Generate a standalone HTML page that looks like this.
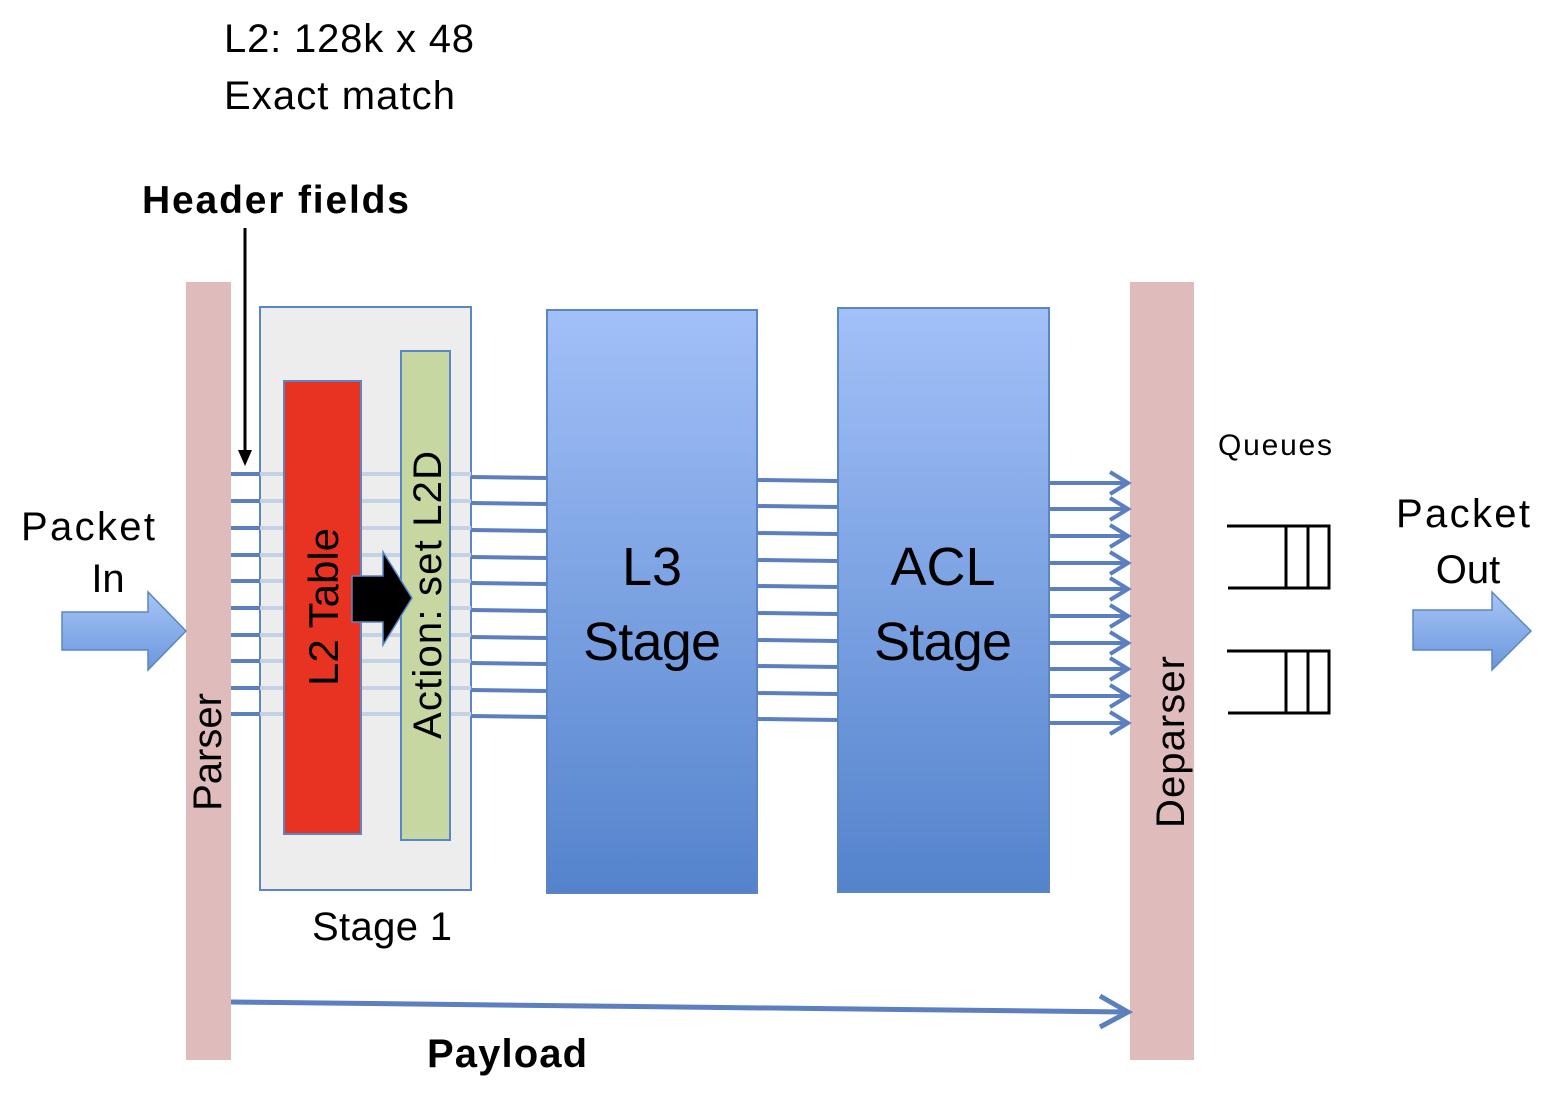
<!DOCTYPE html>
<html><head><style>
body{margin:0;background:#fff}
svg text{font-family:"Liberation Sans",sans-serif}
</style></head><body>
<svg width="1554" height="1088" viewBox="0 0 1554 1088" xmlns="http://www.w3.org/2000/svg">
<defs>
<linearGradient id="bl" x1="0" y1="0" x2="0" y2="1"><stop offset="0" stop-color="#a2c0f8"/><stop offset="1" stop-color="#5483cc"/></linearGradient>
<linearGradient id="ar" x1="0" y1="0" x2="0" y2="1"><stop offset="0" stop-color="#a7c4f6"/><stop offset="1" stop-color="#6b97dc"/></linearGradient>
</defs>
<text x="224" y="52" font-size="40" textLength="250">L2: 128k x 48</text>
<text x="224" y="109" font-size="40" textLength="231">Exact match</text>
<text x="142" y="213" font-size="39" font-weight="bold" textLength="267">Header fields</text>
<line x1="245" y1="228" x2="245" y2="452" stroke="#000" stroke-width="3"/>
<polygon points="238,450 252,450 245,466" fill="#000"/>
<rect x="186" y="282" width="45" height="778" fill="#dfbbbb"/>
<rect x="1130" y="282" width="64" height="778" fill="#dfbbbb"/>
<rect x="260" y="307" width="211" height="583" fill="#ededed" stroke="#5b86c4" stroke-width="2"/>
<g stroke="#5b7fbf" stroke-width="4">
<line x1="231" y1="474" x2="260" y2="474"/><line x1="231" y1="501" x2="260" y2="501"/><line x1="231" y1="528" x2="260" y2="528"/><line x1="231" y1="555" x2="260" y2="555"/><line x1="231" y1="581" x2="260" y2="581"/><line x1="231" y1="608" x2="260" y2="608"/><line x1="231" y1="635" x2="260" y2="635"/><line x1="231" y1="661" x2="260" y2="661"/><line x1="231" y1="688" x2="260" y2="688"/><line x1="231" y1="714" x2="260" y2="714"/>
</g>
<g stroke="#c5d2e3" stroke-width="4">
<line x1="260" y1="474" x2="471" y2="474"/><line x1="260" y1="501" x2="471" y2="501"/><line x1="260" y1="528" x2="471" y2="528"/><line x1="260" y1="555" x2="471" y2="555"/><line x1="260" y1="581" x2="471" y2="581"/><line x1="260" y1="608" x2="471" y2="608"/><line x1="260" y1="635" x2="471" y2="635"/><line x1="260" y1="661" x2="471" y2="661"/><line x1="260" y1="688" x2="471" y2="688"/><line x1="260" y1="714" x2="471" y2="714"/>
</g>
<rect x="284" y="381" width="77" height="453" fill="#e83323" stroke="#5b86c4" stroke-width="2"/>
<rect x="401" y="351" width="49" height="489" fill="#c7d7a2" stroke="#5b86c4" stroke-width="2"/>
<g stroke="#5b7fbf" stroke-width="4">
<line x1="471" y1="477" x2="547" y2="478"/><line x1="471" y1="503" x2="547" y2="504"/><line x1="471" y1="530" x2="547" y2="531"/><line x1="471" y1="557" x2="547" y2="558"/><line x1="471" y1="583" x2="547" y2="584"/><line x1="471" y1="610" x2="547" y2="611"/><line x1="471" y1="637" x2="547" y2="638"/><line x1="471" y1="663" x2="547" y2="664"/><line x1="471" y1="690" x2="547" y2="691"/><line x1="471" y1="716" x2="547" y2="717"/>
<line x1="757" y1="480" x2="838" y2="481"/><line x1="757" y1="506" x2="838" y2="507"/><line x1="757" y1="533" x2="838" y2="534"/><line x1="757" y1="560" x2="838" y2="561"/><line x1="757" y1="586" x2="838" y2="587"/><line x1="757" y1="613" x2="838" y2="614"/><line x1="757" y1="640" x2="838" y2="641"/><line x1="757" y1="666" x2="838" y2="667"/><line x1="757" y1="693" x2="838" y2="694"/><line x1="757" y1="719" x2="838" y2="720"/>
</g>
<g stroke="#5b7fbf" stroke-width="4" fill="none">
<path d="M1049 483H1126M1110 472L1128 483L1110 494"/>
<path d="M1049 509H1126M1110 498L1128 509L1110 520"/>
<path d="M1049 536H1126M1110 525L1128 536L1110 547"/>
<path d="M1049 563H1126M1110 552L1128 563L1110 574"/>
<path d="M1049 589H1126M1110 578L1128 589L1110 600"/>
<path d="M1049 616H1126M1110 605L1128 616L1110 627"/>
<path d="M1049 643H1126M1110 632L1128 643L1110 654"/>
<path d="M1049 669H1126M1110 658L1128 669L1110 680"/>
<path d="M1049 696H1126M1110 685L1128 696L1110 707"/>
<path d="M1049 723H1126M1110 712L1128 723L1110 734"/>
<path d="M231 1002L1126 1012M1100 996L1128 1012L1100 1027" stroke-width="5"/>
</g>
<polygon points="352,576 383,576 383,552 412,598 383,645 383,622 352,622" fill="#000" stroke="#5b86c4" stroke-width="1.5"/>
<rect x="547" y="310" width="210" height="583" fill="url(#bl)" stroke="#5b86c4" stroke-width="2"/>
<rect x="838" y="308" width="211" height="584" fill="url(#bl)" stroke="#5b86c4" stroke-width="2"/>
<polygon points="62,612 148,612 148,592 186,631 148,670 148,650 62,650" fill="url(#ar)" stroke="#5b86c4" stroke-width="1.5"/>
<polygon points="1413,610 1492,610 1492,592 1531,631 1492,670 1492,650 1413,650" fill="url(#ar)" stroke="#5b86c4" stroke-width="1.5"/>
<g stroke="#000" stroke-width="3" fill="none">
<path d="M1227 526H1329V588H1228M1286 526V588M1308 526V588"/>
<path d="M1227 651H1329V713H1228M1286 651V713M1308 651V713"/>
</g>
<text x="88" y="540" font-size="40" text-anchor="middle" textLength="134">Packet</text>
<text x="108" y="592" font-size="40" text-anchor="middle">In</text>
<text x="1463" y="527" font-size="40" text-anchor="middle" textLength="134">Packet</text>
<text x="1468" y="583" font-size="40" text-anchor="middle">Out</text>
<text x="1218" y="455" font-size="30" textLength="114">Queues</text>
<text x="312" y="940" font-size="40" textLength="140">Stage 1</text>
<text x="427" y="1067" font-size="40" font-weight="bold" textLength="160">Payload</text>
<text x="652" y="585" font-size="54" text-anchor="middle">L3</text>
<text x="652" y="660" font-size="54" text-anchor="middle" textLength="138">Stage</text>
<text x="943" y="585" font-size="54" text-anchor="middle">ACL</text>
<text x="943" y="660" font-size="54" text-anchor="middle" textLength="138">Stage</text>
<text transform="translate(221,752) rotate(-90)" font-size="40" text-anchor="middle">Parser</text>
<text transform="translate(338,607) rotate(-90)" font-size="42" text-anchor="middle">L2 Table</text>
<text transform="translate(441,595) rotate(-90)" font-size="40" text-anchor="middle" textLength="288">Action: set L2D</text>
<text transform="translate(1184,742) rotate(-90)" font-size="40" text-anchor="middle" textLength="172">Deparser</text>
</svg>
</body></html>
